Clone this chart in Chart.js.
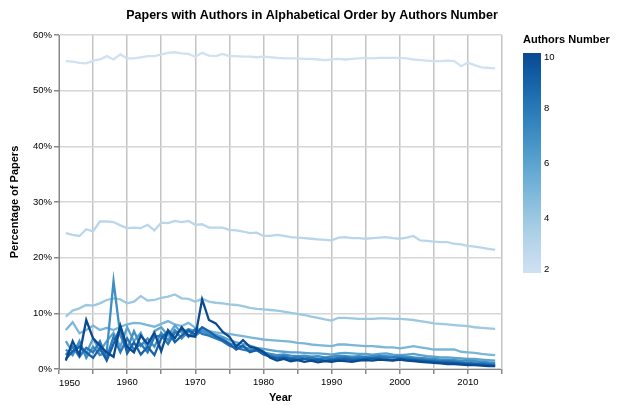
<!DOCTYPE html>
<html><head><meta charset="utf-8">
<script src="https://cdn.jsdelivr.net/npm/chart.js@4.4.1/dist/chart.umd.min.js"></script>
<style>html,body{margin:0;padding:0;background:#fff;} canvas{display:block;}</style>
</head><body>
<canvas id="c" width="619" height="405"></canvas>
<script>
const years = [1951,1952,1953,1954,1955,1956,1957,1958,1959,1960,
  1961,1962,1963,1964,1965,1966,1967,1968,1969,1970,
  1971,1972,1973,1974,1975,1976,1977,1978,1979,1980,
  1981,1982,1983,1984,1985,1986,1987,1988,1989,1990,
  1991,1992,1993,1994,1995,1996,1997,1998,1999,2000,
  2001,2002,2003,2004,2005,2006,2007,2008,2009,2010,
  2011,2012,2013,2014];
const authorsNumbers = [2,3,4,5,6,7,8,9,10];
const pct2 = [55.3,55.2,55.0,54.9,55.4,55.6,56.2,55.6,56.5,55.8,
  55.8,56.0,56.2,56.2,56.5,56.8,56.9,56.7,56.6,56.1,
  56.8,56.3,56.2,56.6,56.2,56.2,56.1,56.1,56.0,56.1,
  56.0,55.9,55.8,55.8,55.8,55.7,55.7,55.6,55.5,55.6,
  55.7,55.6,55.7,55.8,55.9,55.8,55.9,55.9,55.9,55.9,
  55.8,55.6,55.5,55.4,55.3,55.3,55.4,55.3,54.4,55.0,
  54.6,54.2,54.1,54.0];
const pct3 = [24.4,24.1,23.9,25.1,24.7,26.5,26.5,26.4,25.8,25.3,
  25.4,25.3,25.9,24.9,26.3,26.2,26.6,26.4,26.6,25.9,
  26.0,25.4,25.4,25.4,25.0,24.9,24.7,24.4,24.5,23.9,
  23.9,24.1,23.9,23.7,23.6,23.5,23.4,23.3,23.2,23.1,
  23.6,23.7,23.5,23.5,23.4,23.5,23.6,23.7,23.5,23.4,
  23.6,23.9,23.1,23.0,22.9,22.8,22.8,22.5,22.4,22.1,
  22.0,21.8,21.6,21.4];
const pct4 = [9.4,10.5,10.9,11.5,11.4,11.8,12.4,12.7,12.5,11.8,
  12.1,13.1,12.3,12.4,12.8,13.0,13.4,12.7,12.6,12.1,
  12.6,12.1,11.9,11.8,11.6,11.5,11.3,11.0,10.8,10.7,
  10.6,10.5,10.3,10.1,9.9,9.7,9.4,9.2,8.9,8.7,
  9.2,9.2,9.1,9.0,9.0,9.0,9.1,9.1,9.0,9.0,
  8.9,8.8,8.6,8.4,8.2,8.1,8.0,7.9,7.8,7.7,
  7.5,7.4,7.3,7.2];
const pct5 = [7.0,8.4,6.4,7.0,7.8,7.0,7.4,7.0,7.6,8.0,
  8.3,8.2,7.9,7.6,8.1,8.6,8.0,7.7,8.3,7.4,
  7.0,6.8,6.6,6.4,6.3,6.1,5.9,5.7,5.5,5.3,
  5.2,5.1,5.0,4.9,4.7,4.6,4.4,4.3,4.2,4.1,
  4.4,4.4,4.3,4.2,4.1,4.1,4.0,3.9,3.9,3.7,
  3.9,4.1,3.9,3.7,3.5,3.5,3.5,3.5,3.1,3.0,
  2.9,2.7,2.6,2.5];
const pct6 = [5.0,3.0,4.5,2.8,5.5,3.2,5.0,6.5,4.0,7.5,
  5.0,6.5,3.5,6.8,7.5,6.0,7.8,6.5,7.2,6.8,
  7.0,6.5,6.2,5.8,5.2,4.8,4.5,4.2,3.8,3.6,
  3.4,3.2,3.1,3.0,3.0,2.9,2.8,2.8,2.7,2.6,
  2.8,2.9,2.8,2.7,2.7,2.6,2.7,2.8,2.6,2.5,
  2.6,2.7,2.5,2.3,2.2,2.1,2.1,2.0,1.9,1.8,
  1.8,1.7,1.6,1.5];
const pct7 = [3.5,2.5,5.0,2.0,4.0,2.5,3.0,15.8,6.0,3.5,
  6.8,4.2,5.5,4.0,6.5,5.2,7.0,5.5,6.8,6.0,
  6.8,6.3,5.8,5.5,4.6,4.3,4.0,3.6,3.3,3.0,
  2.7,2.5,2.6,2.4,2.3,2.4,2.2,2.3,2.1,2.2,
  2.4,2.3,2.2,2.3,2.2,2.3,2.4,2.3,2.2,2.3,
  2.2,2.1,2.0,1.9,1.8,1.7,1.7,1.6,1.5,1.5,
  1.4,1.3,1.2,1.1];
const pct8 = [2.5,4.0,2.2,3.8,3.0,5.0,2.0,5.8,3.0,5.5,
  3.5,4.5,3.0,5.8,6.0,4.5,6.5,7.0,5.8,7.2,
  6.3,6.0,5.5,5.0,4.2,3.8,3.5,3.2,3.5,2.8,
  2.4,2.1,2.3,2.0,2.1,1.9,2.0,1.8,1.9,1.8,
  2.0,2.1,1.9,2.0,2.1,1.9,2.2,2.0,2.1,2.0,
  1.9,1.8,1.7,1.6,1.5,1.4,1.4,1.3,1.2,1.1,
  1.0,1.0,0.9,0.8];
const pct9 = [1.8,3.2,4.0,3.0,2.0,3.8,1.5,4.5,7.5,2.8,
  4.8,2.6,4.0,2.5,5.5,6.8,4.8,6.0,7.0,6.2,
  7.5,6.8,5.9,5.2,4.5,3.5,4.2,3.0,3.4,2.6,
  2.2,1.9,2.0,1.8,1.7,1.8,1.6,1.7,1.5,1.6,
  1.7,1.8,1.6,1.7,1.8,1.9,1.8,1.7,1.6,1.8,
  1.7,1.6,1.5,1.4,1.3,1.2,1.2,1.1,1.0,0.9,
  0.9,0.8,0.7,0.6];
const pct10 = [1.5,5.0,2.5,8.8,5.5,4.2,3.0,2.2,7.8,4.0,
  3.0,6.0,4.5,6.5,3.2,7.0,5.5,7.5,6.0,5.8,
  12.5,8.8,8.2,6.7,5.8,4.0,5.2,4.0,3.7,3.1,
  2.0,1.5,1.8,1.4,1.6,1.3,1.5,1.2,1.4,1.3,
  1.5,1.4,1.3,1.5,1.6,1.5,1.7,1.6,1.5,1.7,
  1.5,1.4,1.3,1.2,1.1,1.0,0.9,0.9,0.8,0.7,
  0.7,0.6,0.5,0.5];
const seriesValues = [pct2,pct3,pct4,pct5,pct6,pct7,pct8,pct9,pct10];
const xLabelYears = [1950,1960,1970,1980,1990,2000,2010];
const legendTicks = [10,8,6,4,2];

// style
const bluesScheme = ['#cfe1f2','#bed8ec','#a8cee5','#8fc1de','#74b2d7','#5ba3cf','#4592c6','#3181bd','#206fb2','#125ca4','#0a4a90'];
const FONT = '"Liberation Sans", Arial, Helvetica, sans-serif';
function hexToRgb(h){return [parseInt(h.slice(1,3),16),parseInt(h.slice(3,5),16),parseInt(h.slice(5,7),16)];}
function schemeColor(t){
  const p = Math.max(0,Math.min(1,t))*(bluesScheme.length-1);
  const i = Math.min(Math.floor(p), bluesScheme.length-2);
  const f = p - i;
  const a = hexToRgb(bluesScheme[i]), b = hexToRgb(bluesScheme[i+1]);
  const c = a.map((v,k)=>Math.round(v+(b[k]-v)*f));
  return 'rgb('+c.join(',')+')';
}
const minN = authorsNumbers[0], maxN = authorsNumbers[authorsNumbers.length-1];

const datasets = authorsNumbers.map((n, idx) => ({
  label: String(n),
  data: years.map((yr, j) => ({x: yr, y: seriesValues[idx][j]})),
  borderColor: schemeColor((n-minN)/(maxN-minN)),
  borderWidth: 2.3,
  pointRadius: 0,
  tension: 0,
  fill: false,
  order: 100 - n
}));

const extras = {
  id: 'extras',
  afterDraw(chart){
    const ctx = chart.ctx;
    const xs = chart.scales.x;
    ctx.save();
    ctx.fillStyle = '#000';
    ctx.font = 'bold 12.5px ' + FONT;
    ctx.textAlign = 'center';
    ctx.textBaseline = 'middle';
    ctx.fillText('Papers with Authors in Alphabetical Order by Authors Number', 312, 16);
    ctx.font = '9.5px ' + FONT;
    ctx.textAlign = 'left';
    ctx.fillText(String(xLabelYears[0]), xs.getPixelForValue(xLabelYears[0]), 383);
    const lx = 523, top = 53, bot = 273, w = 18;
    ctx.font = 'bold 11px ' + FONT;
    ctx.textAlign = 'left';
    ctx.fillText('Authors Number', lx, 40);
    const g = ctx.createLinearGradient(0, bot, 0, top);
    bluesScheme.forEach((c, i) => g.addColorStop(i/(bluesScheme.length-1), c));
    ctx.fillStyle = g;
    ctx.fillRect(lx, top, w, bot-top);
    ctx.font = '9.5px ' + FONT;
    ctx.fillStyle = '#000';
    legendTicks.forEach(v => {
      const y = bot - (v-minN)/(maxN-minN)*(bot-top);
      let yy = y;
      if (v === maxN) { ctx.textBaseline = 'top'; yy = top; }
      else if (v === minN) { ctx.textBaseline = 'bottom'; yy = bot + 1; }
      else ctx.textBaseline = 'middle';
      ctx.fillText(String(v), lx + w + 3, yy);
    });
    ctx.restore();
  }
};

Chart.defaults.font.family = FONT;
new Chart(document.getElementById('c'), {
  type: 'line',
  data: { datasets },
  options: {
    responsive: false,
    animation: false,
    devicePixelRatio: 1,
    layout: { padding: { top: 35, right: 117, bottom: 0, left: 0 } },
    plugins: { legend: { display: false }, title: { display: false }, tooltip: { enabled: false } },
    scales: {
      x: {
        type: 'linear', min: 1950, max: 2015,
        afterFit(s){ s.height = 36; },
        grid: { color: '#c4c4c4', lineWidth: 1.5, tickColor: '#888', tickLength: 5, drawTicks: true },
        border: { color: '#888', width: 1 },
        ticks: {
          stepSize: 5, autoSkip: false, maxRotation: 0, padding: 3,
          color: '#000', font: { size: 9.5 },
          callback: v => (xLabelYears.includes(v) && v !== xLabelYears[0]) ? String(v) : ''
        },
        title: { display: true, text: 'Year', color: '#000', font: { size: 11, weight: 'bold' }, padding: { top: 0, bottom: 0 } }
      },
      y: {
        min: 0, max: 60,
        afterFit(s){ s.width = 59; },
        grid: { color: '#d6d6d6', lineWidth: 1.5, tickColor: '#888', tickLength: 5 },
        border: { color: '#888', width: 1 },
        ticks: { stepSize: 10, padding: 2, color: '#000', font: { size: 9.5 }, callback: v => v + '%' },
        title: { display: true, text: 'Percentage of Papers', color: '#000', font: { size: 11, weight: 'bold' }, padding: { top: 8, bottom: 0 } }
      }
    }
  },
  plugins: [extras]
});
</script>
</body></html>
